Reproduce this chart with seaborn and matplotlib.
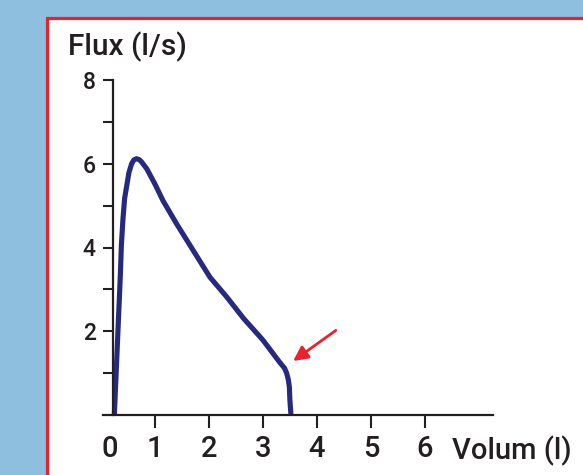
import matplotlib
matplotlib.use("Agg")
import matplotlib.pyplot as plt
import seaborn as sns
import pandas as pd
from matplotlib.patches import Rectangle

# Data (volume in l, flow in l/s)
volume = [0.25, 0.36, 0.38, 0.41, 0.44, 0.48, 0.52, 0.57, 0.61, 0.66, 0.71, 0.75,
          0.85, 1.00, 1.15, 1.40, 1.71, 2.02, 2.33, 2.64, 3.00, 3.31, 3.40, 3.44,
          3.47, 3.49, 3.50, 3.52]
flow = [0.0, 3.3, 4.05, 4.69, 5.17, 5.48, 5.79, 6.0, 6.09, 6.12, 6.1, 6.05,
        5.88, 5.52, 5.12, 4.57, 3.93, 3.29, 2.82, 2.31, 1.79, 1.26, 1.12, 1.0,
        0.85, 0.67, 0.35, 0.0]
x_tick_values = [1, 2, 3, 4, 5, 6]
x_tick_labels = ["1", "2", "3", "4", "5", "6"]
y_major = [2, 4, 6, 8]
y_minor = [1, 3, 5, 7]
arrow_tip = (3.56, 1.29)
arrow_tail = (4.35, 2.02)

df = pd.DataFrame({"Volum": volume, "Flux": flow})

sns.set_style("ticks")
plt.rcParams["font.family"] = ["Roboto", "DejaVu Sans"]

W, H = 583, 475
fig = plt.figure(figsize=(W / 100, H / 100), dpi=100, facecolor="#8fbfdf")
fig.patches.append(Rectangle((46.5 / W, -0.1), 1.0, (H - 17.5) / H + 0.1,
                             transform=fig.transFigure, facecolor="white",
                             edgecolor="#e8212d", lw=2.3, zorder=-5))

ax = fig.add_axes([103 / W, (H - 415) / H, 390 / W, 335 / H])
ax.set_zorder(2)
ax.patch.set_alpha(0)

sns.lineplot(data=df, x="Volum", y="Flux", sort=False, estimator=None,
             color="#262a7e", lw=3.7, ax=ax, solid_joinstyle="round",
             solid_capstyle="butt")

ax.set_xlim(0.04, 7.26)
ax.set_ylim(0, 8)
ax.spines["left"].set_position(("data", 0.22))
ax.spines["top"].set_visible(False)
ax.spines["right"].set_visible(False)
for s in ("left", "bottom"):
    ax.spines[s].set_linewidth(1.6)
    ax.spines[s].set_color("#231f20")

ax.set_xticks([0.17] + x_tick_values)
ax.set_xticklabels(["0"] + x_tick_labels)
ax.xaxis.get_major_ticks()[0].tick1line.set_visible(False)
ax.set_yticks(y_major)
ax.set_yticks(y_minor, minor=True)
ax.set_yticklabels([str(v) for v in y_major])
ax.tick_params(axis="x", direction="out", length=9.5, width=1.5, color="#231f20",
               labelsize=21, pad=5, labelcolor="#231f20")
ax.tick_params(axis="y", which="both", direction="out", length=7.2, width=1.5,
               color="#231f20", labelsize=16.5, pad=5, labelcolor="#231f20")
for lab in ax.get_xticklabels() + ax.get_yticklabels():
    lab.set_fontweight("medium")
ax.set_xlabel("")
ax.set_ylabel("")

fig.text(68 / W, 1 - 55 / H, "Flux (l/s)", fontsize=21.5, color="#231f20",
         ha="left", va="baseline", fontweight="medium")
fig.text(452 / W, 1 - 459 / H, "Volum (l)", fontsize=21, color="#231f20",
         ha="left", va="baseline", fontweight="medium")

ax.annotate("", xy=arrow_tip, xytext=arrow_tail,
            arrowprops=dict(arrowstyle="-|>", color="#e8212d", lw=2,
                            mutation_scale=22, shrinkA=0, shrinkB=0))

fig.savefig("out.png", dpi=100, facecolor=fig.get_facecolor())
